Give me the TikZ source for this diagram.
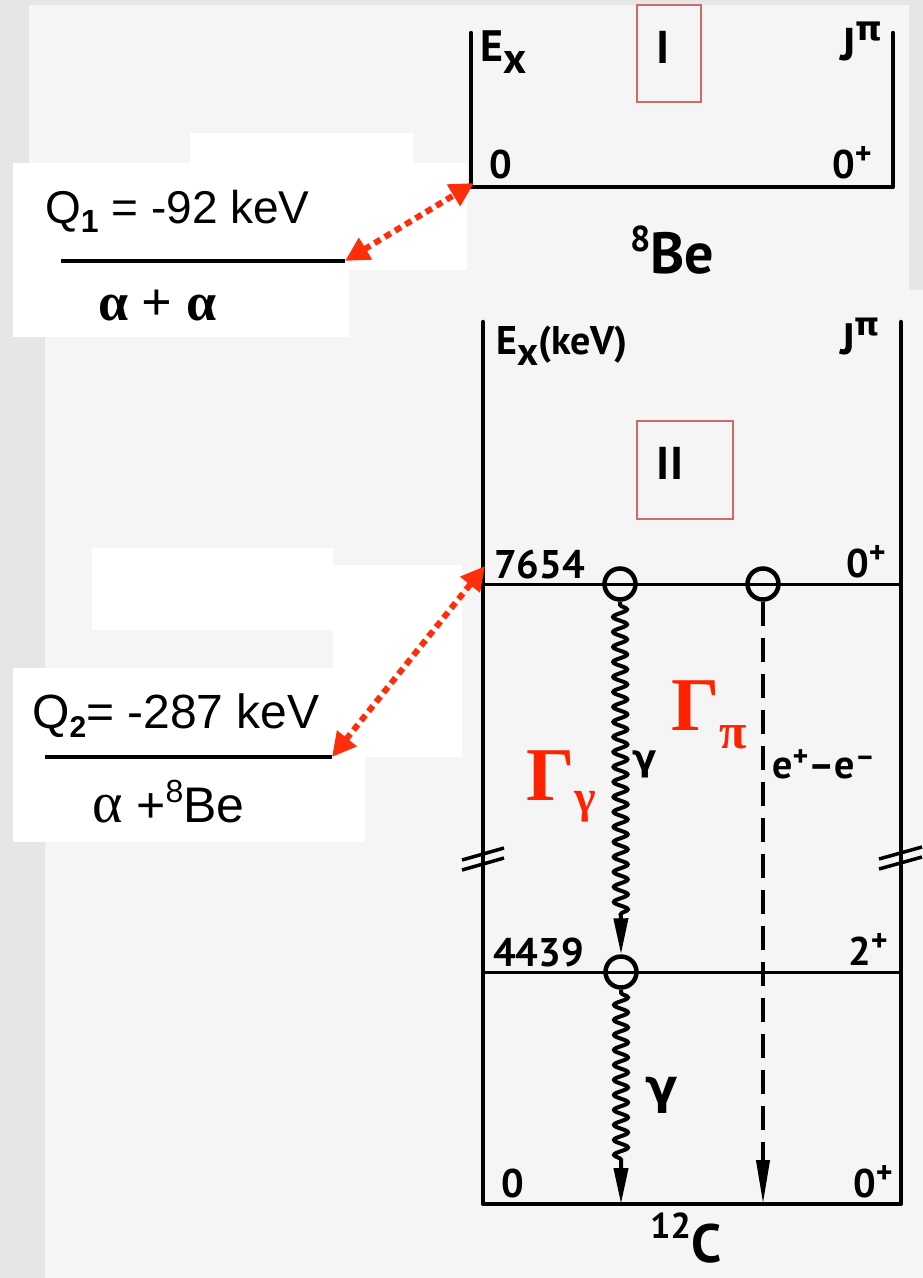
\documentclass[tikz,border=0pt]{standalone}
\usepackage{fontspec}
\setmainfont{Liberation Sans}
\newfontfamily\lblfont{PT Sans Bold}
\newfontfamily\grkfont{DejaVu Sans Bold}
\newfontfamily\serfont{Liberation Serif}
\newfontfamily\serbold{Liberation Serif Bold}
\usetikzlibrary{arrows.meta,decorations.pathmorphing}
\definecolor{outergray}{HTML}{E6E6E6}
\definecolor{paper}{HTML}{F5F5F5}
\definecolor{boxred}{HTML}{D06A64}
\definecolor{arrred}{HTML}{FF2E0A}
\definecolor{gamred}{HTML}{FF2200}
\newcommand\lowx[2]{\raisebox{#1}{#2}}
\begin{document}
\begin{tikzpicture}[x=1pt,y=-1pt,
  lbl/.style={inner sep=0pt, anchor=base west, font=\lblfont\fontsize{40}{44}\selectfont},
  qtext/.style={inner sep=0pt, anchor=base west, font=\fontsize{46}{50}\selectfont},
  frame/.style={line width=4.5pt, line cap=round, line join=round},
  level/.style={line width=3pt},
  qline/.style={line width=4.5pt},
  romanbox/.style={draw=boxred, line width=1.6pt},
  romantext/.style={inner sep=0pt, anchor=base, font=\lblfont\fontsize{46}{50}\selectfont},
  redarrow/.style={arrred, line width=6pt, dash pattern=on 7pt off 5pt,
     {Triangle[length=24pt,width=24pt]}-{Triangle[length=24pt,width=24pt]}},
  statecirc/.style={circle, draw, line width=4.5pt, minimum size=31pt, inner sep=0pt},
  photon/.style={line width=4pt, decorate,
     decoration={snake, segment length=15pt, amplitude=7pt, pre length=3pt, post length=38pt},
     -{Triangle[length=36pt,width=14pt]}},
  pairline/.style={line width=4pt, dash pattern=on 24pt off 12pt,
     -{Triangle[length=44pt,width=13pt]}},
  breakmark/.style={line width=3.5pt},
  gamlabel/.style={inner sep=0pt, anchor=base west, text=gamred, font=\serbold\fontsize{76}{80}\selectfont}
]
\useasboundingbox (0,0) rectangle (923,1278);
% background
\fill[outergray] (0,0) rectangle (923,1278);
\fill[paper] (29,5) -- (909,5) -- (909,290) -- (923,290) -- (923,1278) -- (45,1278) -- (45,165) -- (29,165) -- cycle;
% white patches behind the Q labels
\fill[white] (190,133) rectangle (413,165);
\fill[white] (13,163) rectangle (467,270);
\fill[white] (13,270) rectangle (349,337);
\fill[white] (92,548) rectangle (333,630);
\fill[white] (333,565) rectangle (462,757);
\fill[white] (13,668) rectangle (365,842);

% ---------- 8Be (I) ----------
\draw[frame] (471,33) -- (471,187) -- (893,187) -- (893,33);
\coordinate (be0) at (474,183);
\node[romanbox, minimum width=64pt, minimum height=97pt, inner sep=0pt] (boxI) at (669,53.5) {};
\node[romantext] (romI) at (663,63) {I};
\node[lbl, font=\lblfont\fontsize{44}{50}\selectfont] (exI) at (480,61) {E\lowx{-12pt}{x}};
\node[lbl, font=\lblfont\fontsize{46}{48}\selectfont] (jpI) at (840,60) {J\lowx{20pt}{\grkfont\fontsize{34}{34}\selectfont π}};
\node[lbl] (zI) at (489,178) {0};
\node[lbl] (zpI) at (832,178) {0\lowx{14pt}{\fontsize{32}{32}\selectfont +}};
\node[lbl, font=\lblfont\fontsize{58}{64}\selectfont] (beI) at (630,273) {\lowx{22pt}{\fontsize{36}{36}\selectfont 8}Be};

% ---------- Q1 ----------
\coordinate (q1l) at (61,261);
\coordinate (q1r) at (345,261);
\draw[qline] (q1l) -- (q1r);
\node[qtext] (q1) at (45,223) {Q\lowx{-9pt}{\fontsize{32}{32}\selectfont\bfseries 1} = -92 keV};
\node[inner sep=0pt, anchor=base west, font=\serbold\fontsize{54}{56}\selectfont] (aa) at (98,320) {α + α};
\draw[redarrow] (q1r) -- (be0);

% ---------- 12C (II) ----------
\draw[frame] (483,322) -- (483,1204) -- (901,1204) -- (901,322);
\draw[level] (483,584) -- (901,584);
\draw[level] (483,972) -- (901,972);
% break marks
\draw[breakmark] (462,860) -- (504,848);
\draw[breakmark] (462,870) -- (504,858);
\draw[breakmark] (879,859) -- (922,847);
\draw[breakmark] (879,869) -- (922,857);

\node[romanbox, minimum width=96pt, minimum height=98pt, inner sep=0pt] (boxII) at (685,470) {};
\node[romantext] (romII) at (670,479) {II};

\node[lbl] (exII) at (496,354) {E\lowx{-11pt}{x}(keV)};
\node[lbl, font=\lblfont\fontsize{44}{48}\selectfont] (jpII) at (840,354) {J\lowx{19pt}{\grkfont\fontsize{32}{32}\selectfont π}};
\node[lbl] (e7654) at (494,578) {7654};
\node[lbl] (jp7654) at (846,577) {0\lowx{14pt}{\fontsize{32}{32}\selectfont +}};
\node[lbl] (e4439) at (493,966) {4439};
\node[lbl] (jp4439) at (848,965) {2\lowx{14pt}{\fontsize{32}{32}\selectfont +}};
\node[lbl] (e0) at (501,1197) {0};
\node[lbl] (jp0) at (853,1197) {0\lowx{14pt}{\fontsize{32}{32}\selectfont +}};
\node[lbl, font=\lblfont\fontsize{54}{58}\selectfont] (cII) at (650,1262) {\lowx{24pt}{\fontsize{36}{36}\selectfont 12}C};

% states and transitions
\node[statecirc] (s1) at (620,584) {};
\node[statecirc] (s2) at (763,584) {};
\node[statecirc] (s3) at (621,972) {};
\coordinate (g0a) at (621,1204);
\coordinate (g0b) at (763,1204);
\draw[photon] (s1.south) -- (s3.north);
\draw[photon] (s3.south) -- (g0a);
\draw[pairline] (s2.south) -- (g0b);

\node[inner sep=0pt, anchor=base west, font=\grkfont\fontsize{36}{38}\selectfont] (gsmall) at (632,770) {γ};
\node[lbl, font=\lblfont\fontsize{40}{42}\selectfont] (ee) at (772,778) {e\lowx{12pt}{\fontsize{30}{30}\selectfont +}–e\lowx{12pt}{\fontsize{30}{30}\selectfont –}};
\node[inner sep=0pt, anchor=base west, font=\grkfont\fontsize{48}{50}\selectfont] (gbig) at (645,1103) {γ};

\node[gamlabel] (Gg) at (526,800) {Γ\lowx{-12pt}{\fontsize{46}{46}\selectfont γ}};
\node[gamlabel] (Gp) at (671,730) {Γ\lowx{-18pt}{\fontsize{50}{50}\selectfont π}};

% ---------- Q2 ----------
\coordinate (q2l) at (45,757);
\coordinate (q2r) at (332,757);
\coordinate (c7654) at (485,566);
\draw[qline] (q2l) -- (q2r);
\node[qtext, font=\fontsize{48}{50}\selectfont] (q2) at (32,728) {Q\lowx{-9pt}{\fontsize{30}{30}\selectfont\bfseries 2}= -287 keV};
\node[inner sep=0pt, anchor=base west, font=\fontsize{50}{54}\selectfont] (ab) at (92,822) {{\serfont\fontsize{58}{60}\selectfont α} +\lowx{20pt}{\fontsize{32}{32}\selectfont 8}Be};
\draw[redarrow] (q2r) -- (c7654);
\end{tikzpicture}
\end{document}
